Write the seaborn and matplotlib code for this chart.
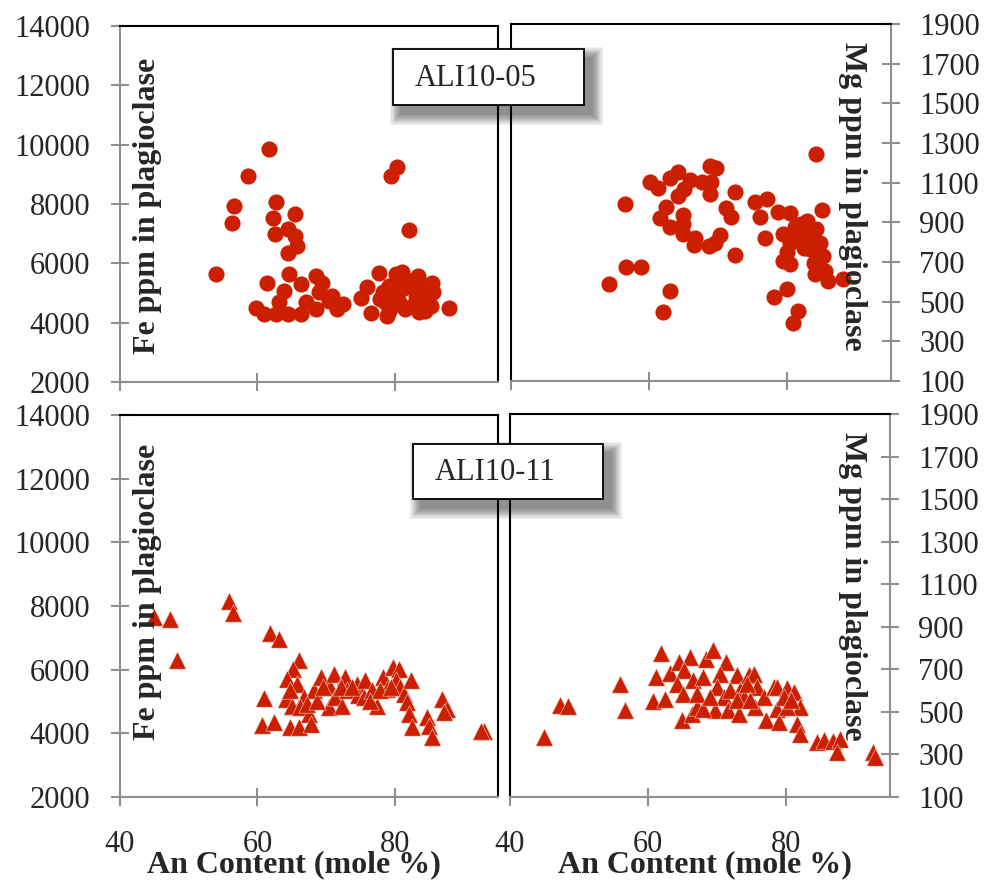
import numpy as np
import pandas as pd
import matplotlib
matplotlib.use("Agg")
import matplotlib.pyplot as plt
import seaborn as sns
from matplotlib.patches import Rectangle

# ---------------- data ----------------
# ALI10-05 : Fe (ppm) vs An
an_05_fe = [61.7, 58.6, 56.6, 56.3, 54.0, 62.7, 62.2, 65.5, 62.6, 64.5, 65.5, 65.8, 64.5, 64.6,
            61.4, 66.3, 68.5, 69.4, 63.8, 70.9, 59.8, 61.0, 62.7, 63.2, 64.4, 66.3, 67.1, 68.5,
            69.0, 70.4, 71.6, 72.4,
            80.3, 79.5, 82.0, 77.7, 75.9, 75.0, 76.5, 78.9, 80.1, 81.1, 83.4, 85.4, 87.9,
            78.2, 79.1, 80.1, 81.1, 82.0, 83.0, 83.9, 84.9, 78.6, 79.6, 80.6, 81.5, 82.5, 83.5,
            84.4, 85.2, 77.9, 79.1, 80.8, 82.3, 83.2, 84.2, 85.6]
fe_05 = [9850, 8930, 7940, 7350, 5640, 8075, 7530, 7660, 6980, 7155, 6930, 6570, 6350, 5640,
         5340, 5300, 5580, 5340, 5080, 4910, 4490, 4290, 4290, 4690, 4290, 4290, 4690, 4460,
         5020, 4740, 4460, 4630,
         9235, 8950, 7130, 5670, 5190, 4820, 4315, 4235, 5640, 5700, 5580, 5340, 4490,
         5020, 5245, 4910, 5135, 5245, 4910, 4685, 4910, 4685, 4570, 4685, 4460, 4570, 4350,
         4405, 4570, 4795, 4405, 5360, 5415, 5190, 5135, 5020]

# ALI10-05 : Mg (ppm) vs An
an_05_mg = [84.2, 56.5, 54.2, 56.7, 58.8, 63.0, 62.0, 60.1, 61.3, 63.0, 64.2, 65.9, 67.6, 68.8,
            69.7, 68.8, 69.0, 72.4, 64.2, 65.0, 62.5, 61.6, 64.9, 63.0, 64.9, 64.9, 66.7, 66.5,
            68.7, 70.3, 69.5, 71.1, 71.8, 72.4, 75.3, 77.0, 76.1, 76.8, 78.7, 80.4, 85.0, 82.8,
            84.2, 81.1, 79.4, 80.4, 82.3, 84.7, 85.2, 83.3, 79.9, 79.4, 80.4, 83.8, 85.4, 84.0,
            85.9, 88.1, 84.0, 79.9, 78.1, 81.6, 80.8, 82.0, 83.4, 81.4, 82.4, 82.4]
mg_05 = [1244, 991, 587, 675, 675, 553, 449, 1101, 1071, 1126, 1152, 1113, 1101, 1186,
         1174, 1042, 1101, 1054, 1034, 1067, 975, 921, 938, 874, 891, 840, 823, 786,
         781, 836, 794, 970, 928, 734, 1005, 1017, 928, 819, 950, 945, 962, 908,
         866, 874, 840, 798, 823, 798, 731, 765, 748, 706, 689, 697, 655, 638,
         605, 612, 689, 562, 523, 452, 393, 891, 840, 823, 773, 790]

# ALI10-11 : Fe (ppm) vs An
an_11_fe = [44.9, 47.3, 48.3, 55.8, 56.5, 61.8, 63.2, 61.0, 60.7, 62.4, 64.8, 66.1, 66.0, 65.2,
            64.3, 65.8, 64.1, 65.0, 66.7, 66.2, 67.5, 67.8, 68.2, 69.2, 70.4, 70.6, 71.1, 71.3,
            72.3, 72.8, 73.0, 74.5, 74.7, 75.7, 75.5, 76.7, 77.4, 78.3, 78.9, 79.7, 80.6, 80.1,
            80.8, 81.3, 81.8, 82.3, 82.0, 82.5, 84.7, 84.9, 85.4, 86.9, 87.6, 87.1, 93.0, 92.5,
            64.8, 67.2, 68.7, 69.6, 72.1, 73.8, 76.4, 77.9, 79.4]
fe_11 = [7640, 7580, 6300, 8170, 7770, 7140, 6960, 5120, 4260, 4370, 4190, 4190, 6300, 6030,
         5720, 5560, 5080, 4870, 5140, 4820, 4610, 4300, 5350, 5770, 4820, 5450, 5870, 5140,
         4870, 5770, 5350, 5560, 5190, 5660, 5140, 5350, 4870, 5770, 5400, 6080, 6030, 5660,
         5450, 5240, 4980, 5660, 4610, 4190, 4510, 4240, 3870, 5080, 4770, 4660, 4080, 4060,
         5350, 4930, 5030, 5450, 5450, 5450, 5030, 5350, 5450]

# ALI10-11 : Mg (ppm) vs An
an_11_mg = [44.9, 47.3, 48.4, 55.9, 56.7, 61.9, 61.2, 60.7, 62.5, 63.1, 64.4, 66.0, 65.2, 64.2,
            65.1, 64.9, 66.4, 67.1, 66.5, 67.9, 68.3, 69.4, 71.2, 70.4, 70.0, 71.0, 69.7, 71.5,
            68.0, 72.9, 73.3, 73.1, 74.6, 75.3, 75.8, 75.5, 76.7, 78.2, 78.7, 80.1, 81.1, 82.0,
            78.7, 77.1, 79.0, 80.1, 81.5, 82.0, 84.4, 85.4, 86.8, 87.8, 87.3, 92.6, 92.9,
            73.8, 74.3, 71.9, 67.1, 69.0, 79.6, 80.6, 72.9, 74.8]
mg_11 = [382, 531, 526, 633, 507, 778, 664, 551, 562, 683, 735, 756, 696, 633,
         586, 460, 492, 523, 649, 664, 748, 793, 735, 680, 617, 570, 507, 507,
         515, 672, 602, 492, 672, 680, 617, 523, 570, 617, 617, 614, 594, 523,
         515, 460, 452, 523, 445, 397, 358, 366, 363, 374, 311, 311, 287,
         570, 633, 602, 586, 570, 570, 555, 555, 555]

x_ticks = [40, 60, 80]
fe_ticks = [2000, 4000, 6000, 8000, 10000, 12000, 14000]
mg_ticks = [100, 300, 500, 700, 900, 1100, 1300, 1500, 1700, 1900]
sample_labels = ["ALI10-05", "ALI10-11"]

# ---------------- style ----------------
sns.set_style("white")
plt.rcParams["font.family"] = ["Liberation Serif", "DejaVu Serif"]

RED = "#cc1f00"
GRAY = "#8f8f8f"
W, H = 989, 884

fig = plt.figure(figsize=(W / 100, H / 100), dpi=100)


def rect(l, t, r, b):
    return [l / W, 1 - b / H, (r - l) / W, (b - t) / H]


ax_tl = fig.add_axes(rect(120, 26, 498, 382))
ax_tr = fig.add_axes(rect(511, 24, 891, 381))
ax_bl = fig.add_axes(rect(120, 415, 498, 797))
ax_br = fig.add_axes(rect(510, 414, 890, 797))

d_tl = pd.DataFrame({"An": an_05_fe, "val": fe_05})
d_tr = pd.DataFrame({"An": an_05_mg, "val": mg_05})
d_bl = pd.DataFrame({"An": an_11_fe, "val": fe_11})
d_br = pd.DataFrame({"An": an_11_mg, "val": mg_11})

sns.scatterplot(data=d_tl, x="An", y="val", ax=ax_tl, color=RED, marker="o", s=135,
                linewidth=0, legend=False)
sns.scatterplot(data=d_tr, x="An", y="val", ax=ax_tr, color=RED, marker="o", s=135,
                linewidth=0, legend=False)
sns.scatterplot(data=d_bl, x="An", y="val", ax=ax_bl, color=RED, marker="^", s=155,
                linewidth=0.4, edgecolor="#f3d0c8", legend=False)
sns.scatterplot(data=d_br, x="An", y="val", ax=ax_br, color=RED, marker="^", s=155,
                linewidth=0.4, edgecolor="#f3d0c8", legend=False)


def style(ax, side, yt, ylim):
    ax.set_xlim(40, 95)
    ax.set_ylim(*ylim)
    ax.set_xticks(x_ticks)
    ax.set_yticks(yt)
    ax.set_xlabel("")
    ax.set_ylabel("")
    for s in ax.spines.values():
        s.set_linewidth(1.5)
    ax.spines["top"].set_color("black")
    ax.spines["bottom"].set_color(GRAY)
    if side == "left":
        ax.spines["left"].set_color(GRAY)
        ax.spines["right"].set_color("black")
        ax.tick_params(axis="y", left=True, right=False, labelleft=True, labelright=False,
                       direction="inout", length=13, width=1.5, color=GRAY,
                       labelsize=22, pad=15)
    else:
        ax.spines["right"].set_color(GRAY)
        ax.spines["left"].set_color("black")
        ax.yaxis.tick_right()
        ax.tick_params(axis="y", left=False, right=True, labelleft=False, labelright=True,
                       direction="inout", length=13, width=1.5, color=GRAY,
                       labelsize=22, pad=14)
    ax.tick_params(axis="x", bottom=True, top=False, direction="inout", length=13,
                   width=1.5, color=GRAY, labelsize=22, pad=17)
    ax.set_facecolor("white")


style(ax_tl, "left", fe_ticks, (2000, 14000))
style(ax_tr, "right", mg_ticks, (100, 1900))
style(ax_bl, "left", fe_ticks, (2000, 14000))
style(ax_br, "right", mg_ticks, (100, 1900))
ax_tl.tick_params(axis="x", labelbottom=False)
ax_tr.tick_params(axis="x", labelbottom=False)


def fx(px):
    return px / W


def fy(py):
    return 1 - py / H


# axis titles
for yc in (206, 592):
    fig.text(fx(148), fy(yc), "Fe ppm in plagioclase", rotation=90, ha="center",
             va="center", fontsize=23, fontweight="bold")
for yc in (196, 586):
    fig.text(fx(852), fy(yc), "Mg ppm in plagioclase", rotation=270, ha="center",
             va="center", fontsize=23, fontweight="bold")
fig.text(fx(294), fy(865), "An Content (mole %)", ha="center", va="center",
         fontsize=23, fontweight="bold")
fig.text(fx(705), fy(865), "An Content (mole %)", ha="center", va="center",
         fontsize=23, fontweight="bold")


# labelled boxes with soft shadow
def shadow_box(l, t, r, b, label, tx, ty):
    for i in range(9, 0, -1):
        grow = i * 1.2
        fig.patches.append(Rectangle((fx(l + 8 - grow), fy(b + 9 + grow)),
                                     (r - l + 2 * grow) / W, (b - t + 2 * grow) / H,
                                     transform=fig.transFigure, facecolor="black",
                                     edgecolor="none", alpha=0.06, zorder=10))
    fig.patches.append(Rectangle((fx(l), fy(b)), (r - l) / W, (b - t) / H,
                                 transform=fig.transFigure, facecolor="white",
                                 edgecolor="black", linewidth=1.3, zorder=11))
    fig.text(fx(tx), fy(ty), label, ha="center", va="center", fontsize=22, zorder=12)


shadow_box(393, 49, 584, 105, sample_labels[0], 476, 78)
shadow_box(413, 444, 603, 499, sample_labels[1], 495, 473)

fig.savefig("out.png", dpi=100)
